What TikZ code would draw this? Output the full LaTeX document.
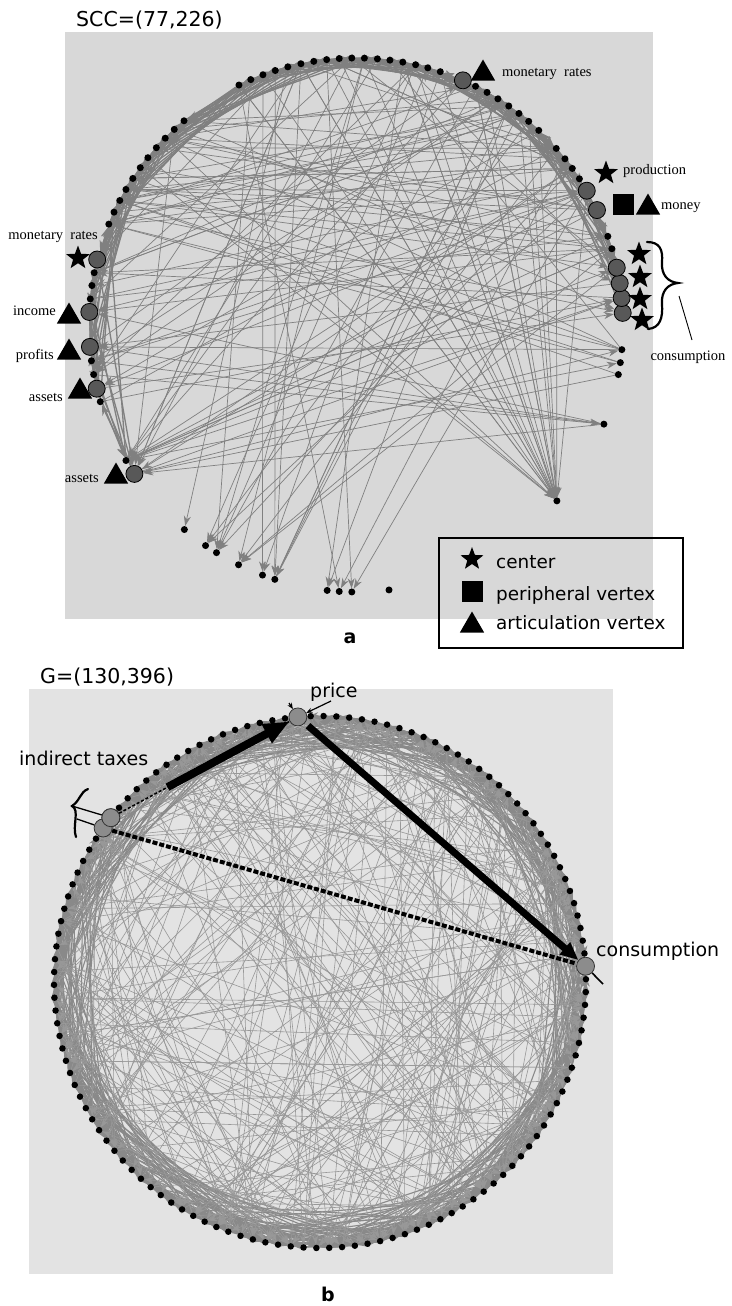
\documentclass[tikz,border=0pt]{standalone}
\usepackage{fontspec}
\setmainfont{Liberation Serif}
\newfontfamily\labelsans{DejaVu Sans}
\usetikzlibrary{shapes.geometric,arrows.meta}
\definecolor{panelA}{RGB}{216,216,216}
\definecolor{panelB}{RGB}{227,227,227}
\definecolor{edgeA}{RGB}{128,128,128}
\definecolor{edgeB}{RGB}{152,152,152}
\definecolor{bigA}{RGB}{88,88,88}
\definecolor{bigB}{RGB}{140,140,140}
\pgfdeclarelayer{panel}
\pgfdeclarelayer{links}
\pgfsetlayers{panel,links,main}
\begin{document}
\begin{tikzpicture}[x=1pt,y=-1pt,
  tdot/.style={circle,fill=black,inner sep=0pt,minimum size=7pt},
  tbig/.style={circle,fill=bigA,draw=black,line width=0.8pt,inner sep=0pt,minimum size=17pt},
  bdot/.style={circle,fill=black,inner sep=0pt,minimum size=6.5pt},
  bbig/.style={circle,fill=bigB,draw=black!80,line width=0.8pt,inner sep=0pt,minimum size=18pt},
  tedge/.style={draw=edgeA,line width=0.7pt,-{Stealth[length=10pt,width=7pt]}},
  tband/.style={draw=edgeA,line width=1.3pt,-{Stealth[length=10pt,width=8pt]}},
  bedge/.style={draw=edgeB,line width=0.6pt,-{Stealth[length=9pt,width=6pt]}},
  bband/.style={draw=edgeB!90!black,line width=1.1pt,-{Stealth[length=11pt,width=8pt]}},
  starsym/.style={star,star points=5,star point ratio=2.4,fill=black,inner sep=0pt,minimum size=25pt},
  trisym/.style={regular polygon,regular polygon sides=3,fill=black,inner sep=0pt,minimum size=28pt},
  sqsym/.style={rectangle,fill=black,inner sep=0pt,minimum size=21pt},
  serlab/.style={font=\fontsize{14.5}{16}\selectfont,inner sep=0pt},
  sanslab/.style={font=\labelsans\fontsize{19}{21}\selectfont,inner sep=0pt},
  legtext/.style={font=\labelsans\fontsize{18.4}{20}\selectfont,inner sep=0pt,anchor=base west},
  titletext/.style={font=\labelsans\fontsize{20.5}{22}\selectfont,inner sep=0pt,anchor=base west},
  paneltag/.style={font=\labelsans\bfseries\fontsize{19}{20}\selectfont,inner sep=0pt}]
\useasboundingbox (0,0) rectangle (731,1306);

% ---------- panel backgrounds ----------
\begin{pgfonlayer}{panel}
  \fill[white] (0,0) rectangle (731,1306);
  \fill[panelA] (65,32) rectangle (653,619);
  \fill[panelB] (29,689) rectangle (613,1274);
\end{pgfonlayer}

% ---------- panel a: vertices of the strongly connected component ----------
\foreach \ang/\sty [count=\i] in {-82.9/tdot,-41.2/tdot,-21.8/tdot,-10.7/tdot,-8.1/tdot,-5.3/tdot,
  2.6/tbig,5.8/tbig,9.0/tbig,12.4/tbig,16.6/tdot,19.4/tdot,25.5/tbig,30.2/tbig,
  33.2/tdot,35.9/tdot,38.5/tdot,41.4/tdot,46.8/tdot,49.7/tdot,52.4/tdot,55.1/tdot,57.9/tdot,60.6/tdot,63.4/tdot,
  66.4/tbig,71.6/tdot,74.4/tdot,77.1/tdot,79.9/tdot,82.7/tdot,85.4/tdot,88.2/tdot,90.9/tdot,93.6/tdot,
  96.3/tdot,99.1/tdot,101.9/tdot,104.8/tdot,107.6/tdot,110.4/tdot,113.2/tdot,116.0/tdot,
  130.1/tdot,132.9/tdot,135.6/tdot,138.4/tdot,141.2/tdot,143.9/tdot,146.7/tdot,149.5/tdot,152.2/tdot,155.0/tdot,157.8/tdot,
  165.8/tbig,168.7/tdot,171.5/tdot,174.4/tdot,177.2/tbig,184.7/tbig,187.7/tdot,190.7/tdot,193.8/tbig,196.7/tdot,
  210.5/tdot,213.9/tbig,230.0/tdot,235.7/tdot,238.5/tdot,243.9/tdot,249.5/tdot,252.3/tdot,263.8/tdot,266.4/tdot,269.1/tdot}
{
  \node[\sty] (t\i) at ({356+267*cos(\ang)},{325-267*sin(\ang)}) {};
}

% ---------- panel b: vertices of the whole graph ----------
\foreach \k in {0,...,129}{
  \def\sty{bdot}
  \ifnum\k=0\relax \def\sty{bbig}\fi
  \ifnum\k=33\relax \def\sty{bbig}\fi
  \ifnum\k=50\relax \def\sty{bbig}\fi
  \ifnum\k=51\relax \def\sty{bbig}\fi
  \pgfmathsetmacro{\ang}{3.4+2.769*\k}
  \node[\sty] (b\k) at ({320+266*cos(\ang)},{982-266*sin(\ang)}) {};
}
\node[bbig] (b50top) at (b50) {};

% ---------- arcs ----------
\begin{pgfonlayer}{links}
  \pgfmathsetseed{731}
  % short arcs between neighbouring vertices of panel a
  \foreach \i in {7,...,65}{
    \foreach \s in {2,4,7,11}{
      \pgfmathtruncatemacro{\j}{\i+\s}
      \ifnum\j<67\relax
        \ifodd\i\relax \draw[tband] (t\i) -- (t\j); \else \draw[tband] (t\j) -- (t\i); \fi
      \fi
    }
  }
  % long arcs of panel a
  \foreach \n in {1,...,70}{
    \pgfmathrandominteger{\sa}{44}{66}
    \pgfmathrandominteger{\sb}{3}{26}
    \ifodd\n\relax \draw[tedge] (t\sa) -- (t\sb); \else \draw[tedge] (t\sb) -- (t\sa); \fi
  }
  \foreach \n in {1,...,22}{
    \pgfmathrandominteger{\sa}{12}{50}
    \draw[tedge] (t\sa) -- (t2);
  }
  \foreach \n in {1,...,28}{
    \pgfmathrandominteger{\sa}{10}{43}
    \pgfmathrandominteger{\sb}{65}{75}
    \draw[tedge] (t\sa) -- (t\sb);
  }
  \foreach \n in {1,...,40}{
    \pgfmathrandominteger{\sa}{1}{75}
    \pgfmathrandominteger{\sb}{1}{75}
    \pgfmathtruncatemacro{\gap}{abs(\sa-\sb)}
    \ifnum\gap>10\relax \draw[tedge] (t\sa) -- (t\sb); \fi
  }

  % short arcs of panel b, with irregular reach
  \foreach \k in {0,...,129}{
    \foreach \m in {1,2,3,4}{
      \pgfmathrandominteger{\s}{2}{22}
      \pgfmathtruncatemacro{\j}{mod(\k+\s,130)}
      \ifodd\m\relax \draw[bband] (b\k) -- (b\j); \else \draw[bband] (b\j) -- (b\k); \fi
    }
  }
  % long arcs of panel b
  \foreach \n in {1,...,300}{
    \pgfmathrandominteger{\sa}{0}{129}
    \pgfmathrandominteger{\sb}{0}{129}
    \pgfmathtruncatemacro{\gap}{min(abs(\sa-\sb),130-abs(\sa-\sb))}
    \ifnum\gap>20\relax \draw[bedge] (b\sa) -- (b\sb); \fi
  }
  % arcs running into the lower rim
  \foreach \n in {1,...,50}{
    \pgfmathrandominteger{\sa}{0}{70}
    \pgfmathrandominteger{\sb}{85}{127}
    \draw[bedge] (b\sa) -- (b\sb);
  }

  % heavy arcs: indirect taxes -> price -> consumption
  \draw[black,line width=4pt,dash pattern=on 5pt off 2pt] (b51) -- (b0);
  \draw[black,line width=1.5pt,dash pattern=on 3pt off 2pt] (b50) -- (b33);
  \draw[black,line width=8pt,shorten <=55pt,-{Triangle[length=26pt,width=20pt]}] (b50) -- (b33);
  \draw[black,line width=7pt,shorten <=4pt,-{Triangle[length=18pt,width=15pt]}] (b33) -- (b0);
\end{pgfonlayer}

% loops and stubs around the heavy vertices
\coordinate (loopA) at (72,806);
\coordinate (loopB) at (77,819);
\draw[line width=2.2pt,line cap=round] (88,789) .. controls (80,792) and (80,801) .. (loopA)
  .. controls (80,810) and (72,826) .. (76,837);
\draw[line width=1.3pt] (loopA) -- (b50);
\draw[line width=1.3pt] (loopB) -- (b51);
\coordinate (priceL) at (289,703);
\coordinate (priceR) at (331,701);
\coordinate (consR) at (603,984);
\draw[line width=1.2pt,-{Stealth[length=6pt,width=5pt]}] (priceL) -- (b33);
\draw[line width=1.2pt,-{Stealth[length=6pt,width=5pt]}] (priceR) -- (b33);
\draw[line width=1.6pt] (b0) -- (consR);

% ---------- panel a: markers ----------
\node[trisym] (triMonR) at (483,73.5) {};
\node[starsym] (starProd) at (606,173) {};
\node[sqsym] (sqMoney) at (623,204) {};
\node[trisym] (triMoney) at (648,207.5) {};
\node[starsym] (starConsA) at (639,254) {};
\node[starsym] (starConsB) at (640,277) {};
\node[starsym] (starConsC) at (640,299) {};
\node[starsym] (starConsD) at (642,320) {};
\node[starsym] (starMonL) at (78,258) {};
\node[trisym] (triIncome) at (69,316.5) {};
\node[trisym] (triProfits) at (69,352.5) {};
\node[trisym] (triAssetsA) at (80,391.5) {};
\node[trisym] (triAssetsB) at (116,476.5) {};

% consumption brace
\draw[line width=2.2pt,line cap=round] (647,242) .. controls (660,242) and (663,250) .. (662,262)
  .. controls (661,275) and (668,282) .. (678,283)
  .. controls (668,284) and (661,291) .. (662,304)
  .. controls (663,318) and (660,328) .. (648,329);
\coordinate (braceTip) at (679,296);
\coordinate (braceEnd) at (692,340);
\draw[line width=0.9pt] (braceTip) -- (braceEnd);

% ---------- panel a: labels ----------
\node[titletext] (ttlA) at (76,27) {SCC=(77,226)};
\node[serlab,anchor=base west] (labMonR) at (502,77) {monetary\ \ rates};
\node[serlab,anchor=base west] (labProd) at (623,174) {production};
\node[serlab,anchor=base west] (labMoney) at (661,209) {money};
\node[serlab,anchor=base] (labCons) at (688,360) {consumption};
\node[serlab,anchor=base east] (labMonL) at (98,239) {monetary\ \ rates};
\node[serlab,anchor=base east] (labIncome) at (56,315) {income};
\node[serlab,anchor=base east] (labProfits) at (54,359) {profits};
\node[serlab,anchor=base east] (labAssetsA) at (63,401) {assets};
\node[serlab,anchor=base east] (labAssetsB) at (99,482) {assets};

% legend
\draw[line width=1.3pt] (439,538) rectangle (683,648);
\node[starsym,minimum size=24pt] (legStar) at (472,559) {};
\node[sqsym,minimum size=21pt] (legSq) at (472,591) {};
\node[trisym] (legTri) at (472,625.5) {};
\node[legtext] (legStarT) at (496,568) {center};
\node[legtext] (legSqT) at (496,600) {peripheral vertex};
\node[legtext] (legTriT) at (496,629) {articulation vertex};

\node[paneltag] (tagA) at (350,638) {a};

% ---------- panel b: labels ----------
\node[titletext] (ttlB) at (40,683) {G=(130,396)};
\node[sanslab,anchor=base west] (labPrice) at (310,697) {price};
\node[sanslab,anchor=base west] (labIndirect) at (19,765) {indirect taxes};
\node[sanslab,anchor=base west] (labConsB) at (596,956) {consumption};
\node[paneltag] (tagB) at (328,1294) {b};
\end{tikzpicture}
\end{document}
